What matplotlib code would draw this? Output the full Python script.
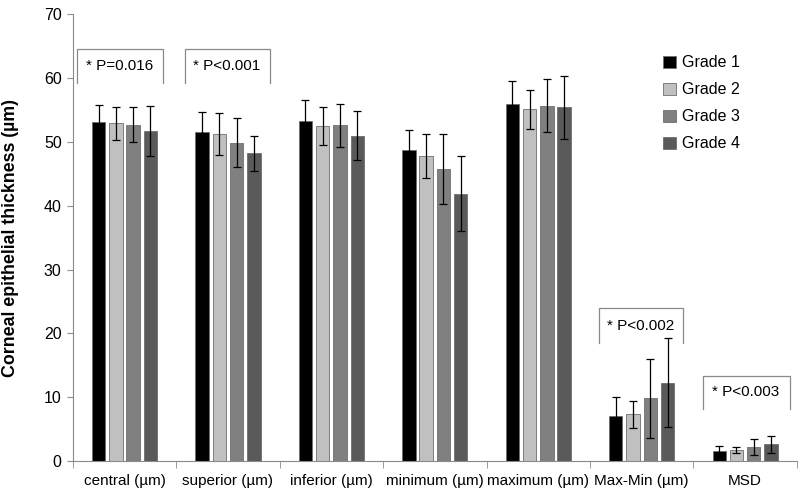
import numpy as np
import matplotlib
matplotlib.use('Agg')
import matplotlib.pyplot as plt

plt.rcParams['font.family'] = ['Liberation Sans', 'DejaVu Sans']

# data
categories = ['central (µm)', 'superior (µm)', 'inferior (µm)', 'minimum (µm)',
              'maximum (µm)', 'Max-Min (µm)', 'MSD']
grades = ['Grade 1', 'Grade 2', 'Grade 3', 'Grade 4']
means = {
    'Grade 1': [53.1, 51.5, 53.3, 48.7, 55.9, 7.1, 1.5],
    'Grade 2': [52.9, 51.2, 52.5, 47.8, 55.1, 7.3, 1.7],
    'Grade 3': [52.7, 49.9, 52.6, 45.7, 55.7, 9.8, 2.2],
    'Grade 4': [51.7, 48.2, 51.0, 41.9, 55.4, 12.3, 2.6],
}
sds = {
    'Grade 1': [2.7, 3.2, 3.3, 3.1, 3.7, 3.0, 0.8],
    'Grade 2': [2.6, 3.3, 3.0, 3.5, 3.1, 2.1, 0.5],
    'Grade 3': [2.7, 3.8, 3.4, 5.5, 4.2, 6.2, 1.3],
    'Grade 4': [3.9, 2.8, 3.9, 5.9, 5.0, 6.9, 1.4],
}
colors = ['#000000', '#c0c0c0', '#808080', '#5a5a5a']

# p-value brackets: (left, right, top, bottom, text)
brackets = [
    (-0.457, 0.370, 64.6, 59.2, '* P=0.016'),
    (0.580, 1.405, 64.6, 59.2, '* P<0.001'),
    (4.584, 5.397, 23.9, 18.5, '* P<0.002'),
    (5.597, 6.431, 13.4, 8.1, '* P<0.003'),
]

fig = plt.figure(figsize=(8, 4.91), dpi=100)
ax = fig.add_axes([0.091, 0.061, 0.905, 0.910])

x = np.arange(len(categories))
pitch = 0.167
width = 0.129
for i, g in enumerate(grades):
    ax.bar(x + (i - 1.5) * pitch, means[g], width, yerr=sds[g], color=colors[i],
           edgecolor='#6e6e6e', linewidth=0.6, label=g,
           error_kw=dict(ecolor='black', elinewidth=0.9, capsize=3.2, capthick=0.9))

for left, right, top, bottom, txt in brackets:
    ax.plot([left, left, right, right], [bottom, top, top, bottom],
            color='#8a8a8a', linewidth=0.9)
    ax.text(left + 0.085, (top + bottom) / 2, txt, ha='left', va='center', fontsize=11)

ax.set_xlim(-0.5, 6.5)
ax.set_ylim(0, 70)
ax.set_yticks(range(0, 71, 10))
ax.set_xticks(x)
ax.set_xticklabels(categories, fontsize=11)
ax.set_xticks(np.arange(-0.5, 7, 1), minor=True)
ax.tick_params(axis='x', which='major', length=0, pad=9)
ax.tick_params(axis='x', which='minor', length=5, color='#8a8a8a')
ax.tick_params(axis='y', length=4, color='#8a8a8a', labelsize=11.5, pad=4)
for s in ['top', 'right']:
    ax.spines[s].set_visible(False)
for s in ['left', 'bottom']:
    ax.spines[s].set_color('#8a8a8a')
ax.set_ylabel('Corneal epithelial thickness (µm)', fontsize=12.8, fontweight='bold')
ax.yaxis.set_label_coords(-0.0745, 0.5)

ax.legend(loc='upper left', bbox_to_anchor=(0.795, 0.94), frameon=False, fontsize=11.5,
          handlelength=0.8, handleheight=0.8, handletextpad=0.4, labelspacing=0.75)

fig.savefig('out.png', dpi=100)
